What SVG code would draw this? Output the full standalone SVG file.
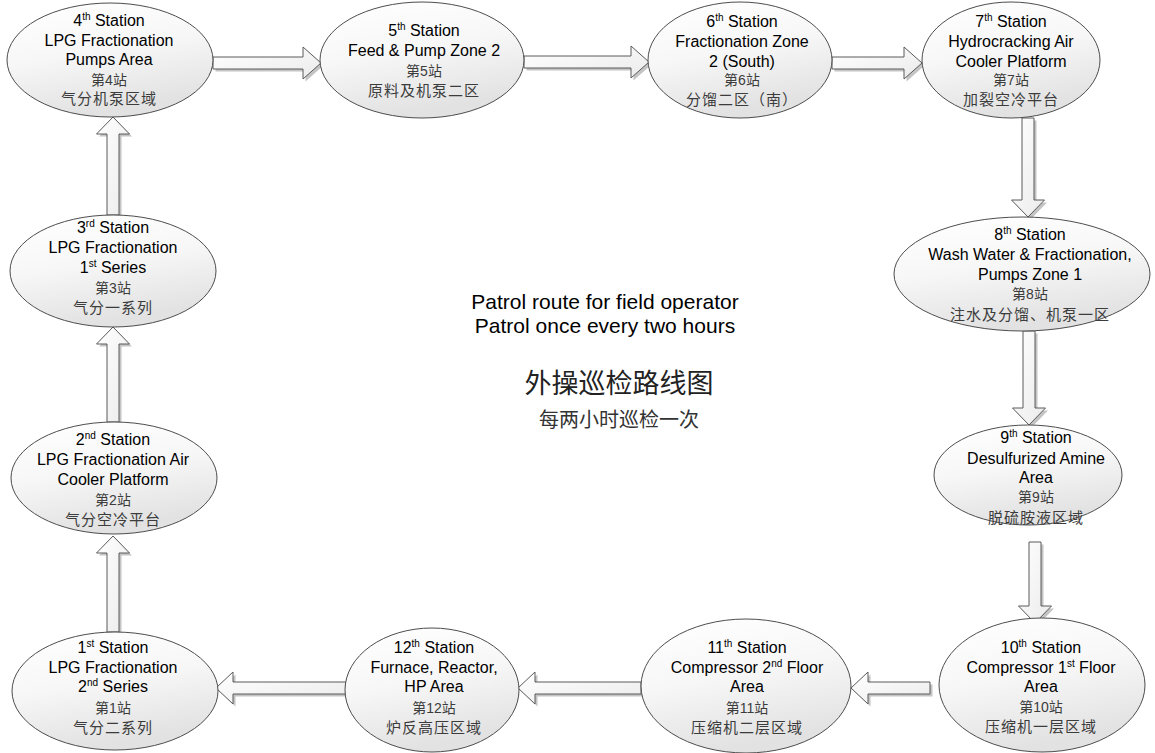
<svg xmlns="http://www.w3.org/2000/svg" width="1155" height="753" viewBox="0 0 1155 753">
<defs>
<linearGradient id="eg" x1="0" y1="0" x2="0.3" y2="1">
<stop offset="0" stop-color="#ffffff"/>
<stop offset="0.5" stop-color="#f7f7f7"/>
<stop offset="1" stop-color="#e2e2e2"/>
</linearGradient>
<linearGradient id="ag" x1="0" y1="0" x2="1" y2="1">
<stop offset="0" stop-color="#ffffff"/>
<stop offset="1" stop-color="#ebebeb"/>
</linearGradient>
<style>
.node{fill:url(#eg);stroke:#4d4d4d;stroke-width:1}
.arr{fill:url(#ag);stroke:#5a5a5a;stroke-width:1;stroke-linejoin:miter}
.sh{fill:#c4c4c4;stroke:none}
.en{font-family:"Liberation Sans",Arial,sans-serif;font-size:16px;fill:#000;text-anchor:middle}
.sup{font-size:10px}
.cn{font-family:"Liberation Sans","Noto Sans CJK SC",sans-serif;font-size:15px;fill:#3c3c3c;text-anchor:middle;letter-spacing:1px}
.cs{font-family:"Liberation Sans","Noto Sans CJK SC",sans-serif;font-size:14px;fill:#3c3c3c;text-anchor:middle}
.t1{font-family:"Liberation Sans",Arial,sans-serif;font-size:21px;fill:#000;text-anchor:middle}
.t2{font-family:"Noto Sans CJK SC",sans-serif;font-size:27px;fill:#222;text-anchor:middle}
.t3{font-family:"Noto Sans CJK SC",sans-serif;font-size:20px;fill:#333;text-anchor:middle}
</style>
<path id="a1" d="M113,536 L129.5,553 L119,553 L119,632 L107,632 L107,553 L96.5,553 Z"/>
<path id="a2" d="M113,327 L129.5,344 L119,344 L119,422 L107,422 L107,344 L96.5,344 Z"/>
<path id="a3" d="M113,117 L129.5,134 L119,134 L119,215 L107,215 L107,134 L96.5,134 Z"/>
<path id="a4" d="M213,57 L303,57 L303,47 L321,63 L303,79 L303,69 L213,69 Z"/>
<path id="a5" d="M524,56 L631,56 L631,46 L649,62 L631,78 L631,68 L524,68 Z"/>
<path id="a6" d="M832,57 L904,57 L904,47 L922,63 L904,79 L904,69 L832,69 Z"/>
<path id="a7" d="M1022,118 L1034,118 L1034,200 L1044.5,200 L1028,217 L1011.5,200 L1022,200 Z"/>
<path id="a8" d="M1023,331 L1035,331 L1035,408 L1045.5,408 L1029,425 L1012.5,408 L1023,408 Z"/>
<path id="a9" d="M1029,542 L1041,542 L1041,606 L1051.5,606 L1035,623 L1018.5,606 L1029,606 Z"/>
<path id="a10" d="M930,682 L868,682 L868,672 L851,688 L868,704 L868,694 L930,694 Z"/>
<path id="a11" d="M641,682 L535,682 L535,672 L518,688 L535,704 L535,694 L641,694 Z"/>
<path id="a12" d="M346,682 L233,682 L233,672 L216,688 L233,704 L233,694 L346,694 Z"/>
</defs>
<rect width="1155" height="753" fill="#ffffff"/>

<g id="connectors">
<g transform="translate(2.5,2.5)" class="sh">
<use href="#a1"/><use href="#a2"/><use href="#a3"/><use href="#a4"/><use href="#a5"/><use href="#a6"/>
<use href="#a7"/><use href="#a8"/><use href="#a9"/><use href="#a10"/><use href="#a11"/><use href="#a12"/>
</g>
<g class="arr">
<use href="#a1"/><use href="#a2"/><use href="#a3"/><use href="#a4"/><use href="#a5"/><use href="#a6"/>
<use href="#a7"/><use href="#a8"/><use href="#a9"/><use href="#a10"/><use href="#a11"/><use href="#a12"/>
</g>
</g>

<g id="station1">
<ellipse class="node" cx="115" cy="691" rx="103" ry="59"/>
<text class="en" x="113" y="653">1<tspan class="sup" dy="-6">st</tspan><tspan dy="6"> Station</tspan></text>
<text class="en" x="113" y="673">LPG Fractionation</text>
<text class="en" x="113" y="692">2<tspan class="sup" dy="-6">nd</tspan><tspan dy="6"> Series</tspan></text>
<text class="cs" x="113" y="713">第1站</text>
<text class="cn" x="113" y="733">气分二系列</text>
</g>

<g id="station2">
<ellipse class="node" cx="114" cy="478" rx="103" ry="56"/>
<text class="en" x="113" y="445">2<tspan class="sup" dy="-6">nd</tspan><tspan dy="6"> Station</tspan></text>
<text class="en" x="113" y="465">LPG Fractionation Air</text>
<text class="en" x="113" y="485">Cooler Platform</text>
<text class="cs" x="113" y="505">第2站</text>
<text class="cn" x="113" y="525">气分空冷平台</text>
</g>

<g id="station3">
<ellipse class="node" cx="113" cy="271" rx="103" ry="56"/>
<text class="en" x="113" y="233">3<tspan class="sup" dy="-6">rd</tspan><tspan dy="6"> Station</tspan></text>
<text class="en" x="113" y="253">LPG Fractionation</text>
<text class="en" x="113" y="273">1<tspan class="sup" dy="-6">st</tspan><tspan dy="6"> Series</tspan></text>
<text class="cs" x="113" y="293">第3站</text>
<text class="cn" x="113" y="313">气分一系列</text>
</g>

<g id="station4">
<ellipse class="node" cx="110" cy="60" rx="103" ry="57"/>
<text class="en" x="109" y="26">4<tspan class="sup" dy="-6">th</tspan><tspan dy="6"> Station</tspan></text>
<text class="en" x="109" y="46">LPG Fractionation</text>
<text class="en" x="109" y="65">Pumps Area</text>
<text class="cs" x="109" y="85">第4站</text>
<text class="cn" x="109" y="104">气分机泵区域</text>
</g>

<g id="station5">
<ellipse class="node" cx="422" cy="60" rx="102" ry="58"/>
<text class="en" x="424" y="36">5<tspan class="sup" dy="-6">th</tspan><tspan dy="6"> Station</tspan></text>
<text class="en" x="424" y="56">Feed &amp; Pump Zone 2</text>
<text class="cs" x="424" y="76">第5站</text>
<text class="cn" x="424" y="96">原料及机泵二区</text>
</g>

<g id="station6">
<ellipse class="node" cx="740" cy="60" rx="92" ry="58"/>
<text class="en" x="742" y="27">6<tspan class="sup" dy="-6">th</tspan><tspan dy="6"> Station</tspan></text>
<text class="en" x="742" y="47">Fractionation Zone</text>
<text class="en" x="742" y="67">2 (South)</text>
<text class="cs" x="742" y="85">第6站</text>
<text class="cn" x="742" y="105">分馏二区（南）</text>
</g>

<g id="station7">
<ellipse class="node" cx="1011" cy="60" rx="89" ry="58"/>
<text class="en" x="1011" y="27">7<tspan class="sup" dy="-6">th</tspan><tspan dy="6"> Station</tspan></text>
<text class="en" x="1011" y="47">Hydrocracking Air</text>
<text class="en" x="1011" y="67">Cooler Platform</text>
<text class="cs" x="1011" y="85">第7站</text>
<text class="cn" x="1011" y="105">加裂空冷平台</text>
</g>

<g id="station8">
<ellipse class="node" cx="1022" cy="274" rx="128" ry="57"/>
<text class="en" x="1030" y="240">8<tspan class="sup" dy="-6">th</tspan><tspan dy="6"> Station</tspan></text>
<text class="en" x="1030" y="260">Wash Water &amp; Fractionation,</text>
<text class="en" x="1030" y="280">Pumps Zone 1</text>
<text class="cs" x="1030" y="299">第8站</text>
<text class="cn" x="1030" y="320">注水及分馏、机泵一区</text>
</g>

<g id="station9">
<ellipse class="node" cx="1028" cy="475" rx="94" ry="50"/>
<text class="en" x="1036" y="443">9<tspan class="sup" dy="-6">th</tspan><tspan dy="6"> Station</tspan></text>
<text class="en" x="1036" y="464">Desulfurized Amine</text>
<text class="en" x="1036" y="483">Area</text>
<text class="cs" x="1036" y="502">第9站</text>
<text class="cn" x="1036" y="523">脱硫胺液区域</text>
</g>

<g id="station10">
<ellipse class="node" cx="1042" cy="685" rx="103" ry="67"/>
<text class="en" x="1041" y="653">10<tspan class="sup" dy="-6">th</tspan><tspan dy="6"> Station</tspan></text>
<text class="en" x="1041" y="673">Compressor 1<tspan class="sup" dy="-6">st</tspan><tspan dy="6">  Floor</tspan></text>
<text class="en" x="1041" y="692">Area</text>
<text class="cs" x="1041" y="712">第10站</text>
<text class="cn" x="1041" y="732">压缩机一层区域</text>
</g>

<g id="station11">
<ellipse class="node" cx="746" cy="686" rx="105" ry="67"/>
<text class="en" x="747" y="653">11<tspan class="sup" dy="-6">th</tspan><tspan dy="6"> Station</tspan></text>
<text class="en" x="747" y="673">Compressor 2<tspan class="sup" dy="-6">nd</tspan><tspan dy="6"> Floor</tspan></text>
<text class="en" x="747" y="692">Area</text>
<text class="cs" x="747" y="713">第11站</text>
<text class="cn" x="747" y="733">压缩机二层区域</text>
</g>

<g id="station12">
<ellipse class="node" cx="432" cy="690" rx="87" ry="62"/>
<text class="en" x="434" y="653">12<tspan class="sup" dy="-6">th</tspan><tspan dy="6"> Station</tspan></text>
<text class="en" x="434" y="673">Furnace, Reactor,</text>
<text class="en" x="434" y="692">HP Area</text>
<text class="cs" x="434" y="713">第12站</text>
<text class="cn" x="434" y="733">炉反高压区域</text>
</g>

<g id="title">
<text class="t1" x="605" y="309">Patrol route for field operator</text>
<text class="t1" x="605" y="333">Patrol once every two hours</text>
<text class="t2" x="619" y="393">外操巡检路线图</text>
<text class="t3" x="619" y="427">每两小时巡检一次</text>
</g>
</svg>
